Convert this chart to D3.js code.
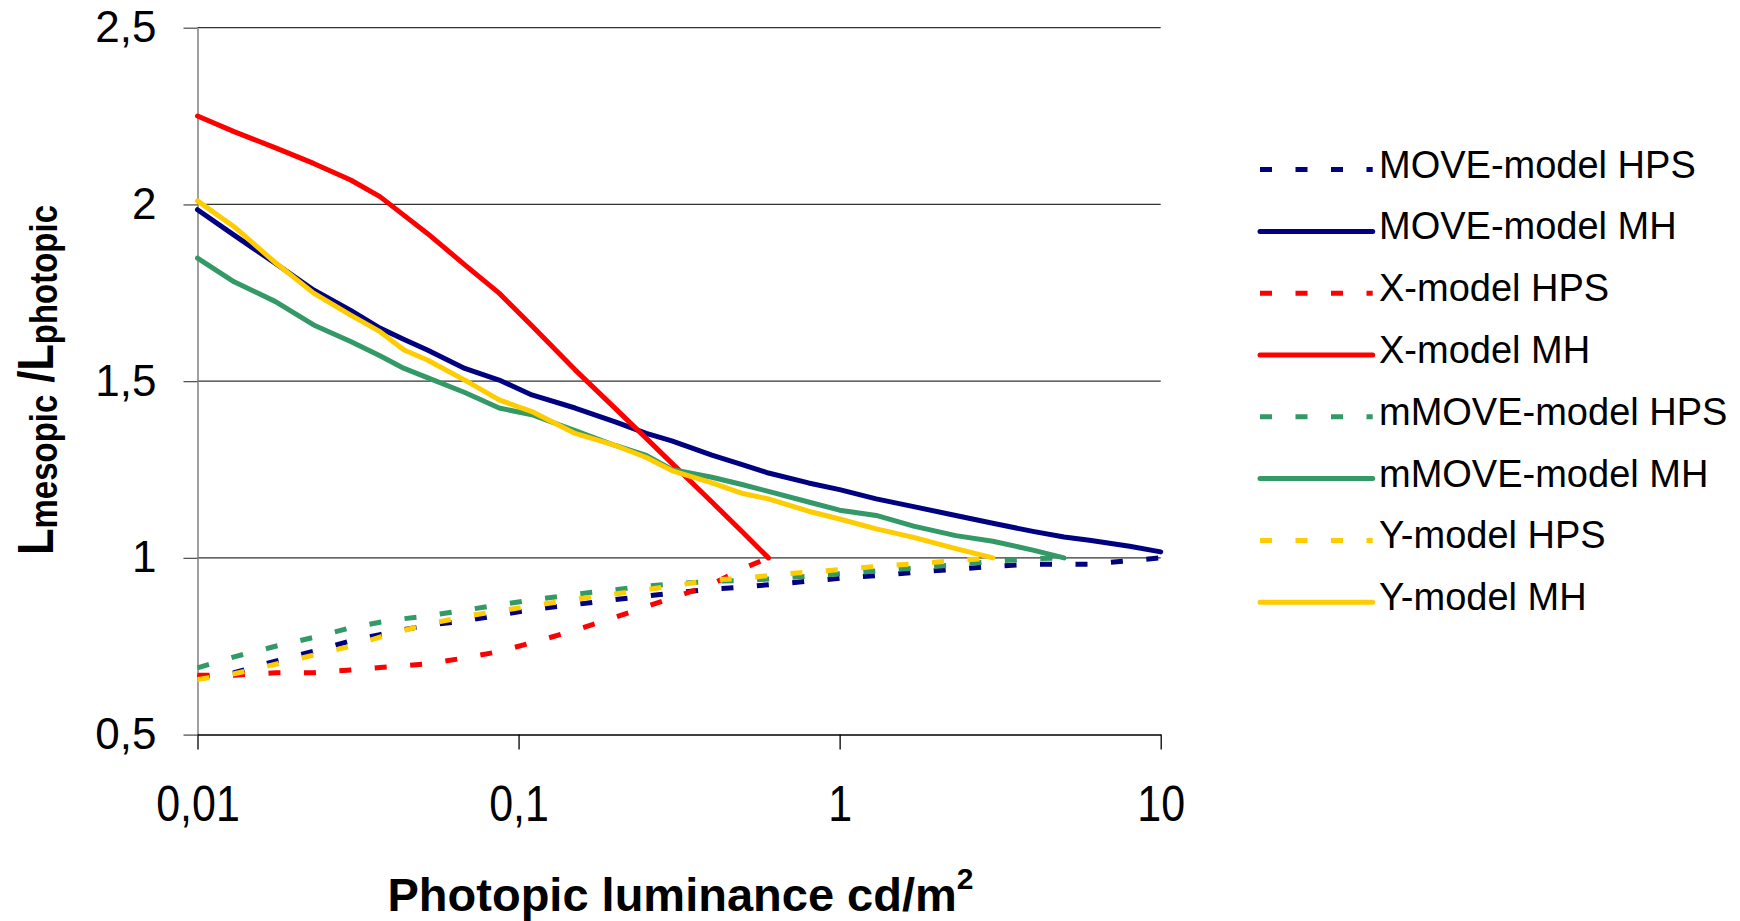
<!DOCTYPE html>
<html>
<head>
<meta charset="utf-8">
<title>Lmesopic / Lphotopic</title>
<script src="https://d3js.org/d3.v7.min.js"></script>
<style>
  body { margin: 0; background: #fff; }
  svg { font-family: "Liberation Sans", Arial, sans-serif; display: block; }
</style>
</head>
<body>
<svg id="chart" width="1740" height="921"></svg>
<script>
// photopic luminance (cd/m2), shared by all series
const lum = [0.01, 0.013, 0.0175, 0.023, 0.03, 0.037, 0.044, 0.052, 0.068, 0.087, 0.11, 0.15, 0.2, 0.25, 0.3,
             0.4, 0.5, 0.6, 0.8, 1, 1.3, 1.7, 2.3, 3, 4, 5, 6, 8, 10];

// Lmesopic / Lphotopic (shorter series stop earlier)
const moveHPS  = [0.662, 0.675, 0.708, 0.736, 0.765, 0.783, 0.797, 0.809, 0.822, 0.838, 0.854, 0.868, 0.882, 0.892, 0.9,
                  0.912, 0.917, 0.924, 0.934, 0.942, 0.95, 0.959, 0.968, 0.976, 0.982, 0.982, 0.982, 0.992, 1.0];
const moveMH   = [1.985, 1.913, 1.833, 1.758, 1.70, 1.650, 1.618, 1.588, 1.536, 1.503, 1.461, 1.424, 1.385, 1.352, 1.331,
                  1.291, 1.263, 1.240, 1.212, 1.193, 1.167, 1.145, 1.12, 1.098, 1.075, 1.059, 1.05, 1.033, 1.017];
const xHPS     = [0.668, 0.668, 0.675, 0.675, 0.683, 0.69, 0.695, 0.70, 0.717, 0.735, 0.76, 0.795, 0.832, 0.862, 0.886,
                  0.925, 0.97, 1.0];
const xMH      = [2.25, 2.206, 2.16, 2.116, 2.069, 2.022, 1.969, 1.918, 1.829, 1.749, 1.657, 1.532, 1.423, 1.338, 1.268,
                  1.158, 1.072, 1.0];
const mmoveHPS = [0.689, 0.72, 0.75, 0.775, 0.802, 0.818, 0.828, 0.836, 0.852, 0.867, 0.881, 0.897, 0.91, 0.92, 0.926,
                  0.934, 0.936, 0.94, 0.948, 0.955, 0.963, 0.971, 0.981, 0.99, 0.998, 1.0];
const mmoveMH  = [1.848, 1.781, 1.725, 1.659, 1.612, 1.572, 1.536, 1.51, 1.468, 1.424, 1.405, 1.36, 1.318, 1.29, 1.25,
                  1.228, 1.207, 1.188, 1.158, 1.135, 1.12, 1.09, 1.063, 1.047, 1.022, 1.0];
const yHPS     = [0.656, 0.672, 0.699, 0.725, 0.75, 0.776, 0.795, 0.812, 0.834, 0.85, 0.864, 0.883, 0.898, 0.91, 0.92,
                  0.938, 0.942, 0.95, 0.96, 0.967, 0.976, 0.983, 0.992, 1.0];
const yMH      = [2.01, 1.937, 1.835, 1.749, 1.687, 1.640, 1.588, 1.560, 1.503, 1.447, 1.414, 1.352, 1.318, 1.284, 1.247,
                  1.212, 1.182, 1.167, 1.132, 1.11, 1.082, 1.058, 1.026, 1.0];

const seriesNames = ["MOVE-model HPS", "MOVE-model MH", "X-model HPS", "X-model MH",
                     "mMOVE-model HPS", "mMOVE-model MH", "Y-model HPS", "Y-model MH"];
const seriesValues = [moveHPS, moveMH, xHPS, xMH, mmoveHPS, mmoveMH, yHPS, yMH];
const seriesColors = ["#000080", "#000080", "#ff0000", "#ff0000", "#339966", "#339966", "#ffcc00", "#ffcc00"];
const seriesDashed = [true, false, true, false, true, false, true, false];

const xTicks = [0.01, 0.1, 1, 10];
const xTickLabels = ["0,01", "0,1", "1", "10"];
const yTicks = [0.5, 1, 1.5, 2, 2.5];
const yTickLabels = ["0,5", "1", "1,5", "2", "2,5"];

const svg = d3.select("#chart");
const plotL = 197.5, plotR = 1160.7, plotT = 27.7, plotB = 734.6;

const x = d3.scaleLog().domain([0.01, 10]).range([plotL, plotR]);
const y = d3.scaleLinear().domain([0.5, 2.5]).range([plotB, plotT]);

// horizontal gridlines
svg.append("g").selectAll("line")
    .data(yTicks.slice(1))
    .enter().append("line")
    .attr("x1", plotL).attr("x2", plotR)
    .attr("y1", d => y(d)).attr("y2", d => y(d))
    .attr("stroke", "#333").attr("stroke-width", 1.3);

// y axis
const gy = svg.append("g")
    .attr("transform", "translate(" + plotL + ",0)")
    .call(d3.axisLeft(y).tickValues(yTicks)
        .tickFormat(d => yTickLabels[yTicks.indexOf(d)])
        .tickSize(14).tickSizeOuter(0).tickPadding(27));
gy.select(".domain").attr("stroke", "#808080").attr("stroke-width", 1.5);
gy.selectAll(".tick line").attr("stroke", "#555").attr("stroke-width", 1.3);
gy.selectAll(".tick text").attr("fill", "#000").style("font-size", "44px");

// x axis
const gx = svg.append("g")
    .attr("transform", "translate(0," + plotB + ")")
    .call(d3.axisBottom(x).tickValues(xTicks)
        .tickFormat(d => xTickLabels[xTicks.indexOf(d)])
        .tickSize(15).tickSizeOuter(0));
gx.select(".domain").attr("stroke", "#000").attr("stroke-width", 1.5);
gx.selectAll(".tick line").attr("stroke", "#000").attr("stroke-width", 1.3);
gx.selectAll(".tick text")
    .attr("fill", "#000")
    .attr("y", 86).attr("dy", 0)
    .attr("transform", "scale(0.86,1)")
    .style("font-size", "50px");

// series
const line = d3.line().x(d => x(d[0])).y(d => y(d[1]));
seriesValues.forEach((vals, i) => {
    const pts = vals.map((v, j) => [lum[j], v]);
    svg.append("path")
        .attr("d", line(pts))
        .attr("fill", "none")
        .attr("stroke", seriesColors[i])
        .attr("stroke-width", 5)
        .attr("stroke-linejoin", "round")
        .attr("stroke-linecap", seriesDashed[i] ? "butt" : "round")
        .attr("stroke-dasharray", seriesDashed[i] ? "12,23.5" : null);
});

// legend
const lg = svg.append("g");
seriesNames.forEach((name, i) => {
    const base = 177.6 + i * 61.8;
    lg.append("line")
        .attr("x1", 1260).attr("x2", 1372.7)
        .attr("y1", base - 8).attr("y2", base - 8)
        .attr("stroke", seriesColors[i])
        .attr("stroke-width", 5)
        .attr("stroke-linecap", seriesDashed[i] ? "butt" : "round")
        .attr("stroke-dasharray", seriesDashed[i] ? "12,23.5" : null);
    lg.append("text")
        .attr("x", 1379).attr("y", base)
        .style("font-size", "38px")
        .text(name);
});

// x title
const xt = svg.append("text")
    .attr("x", 680.5).attr("y", 911)
    .attr("text-anchor", "middle")
    .style("font-size", "47px").style("font-weight", "bold");
xt.append("tspan").text("Photopic luminance cd/m");
xt.append("tspan").attr("dy", -22).style("font-size", "30px").text("2");

// y title
const ytG = svg.append("g").attr("transform", "translate(53,380) rotate(-90)");
const yt = ytG.append("text")
    .attr("text-anchor", "middle")
    .style("font-size", "50px").style("font-weight", "bold");
yt.append("tspan").text("L");
yt.append("tspan").attr("dy", 4).style("font-size", "38px").text("mesopic");
yt.append("tspan").attr("dy", -4).text(" /L");
yt.append("tspan").attr("dy", 4).style("font-size", "38px").text("photopic");
const w = yt.node().getBBox().width;
yt.attr("transform", "scale(" + (350 / w) + ",1)");
</script>
</body>
</html>
